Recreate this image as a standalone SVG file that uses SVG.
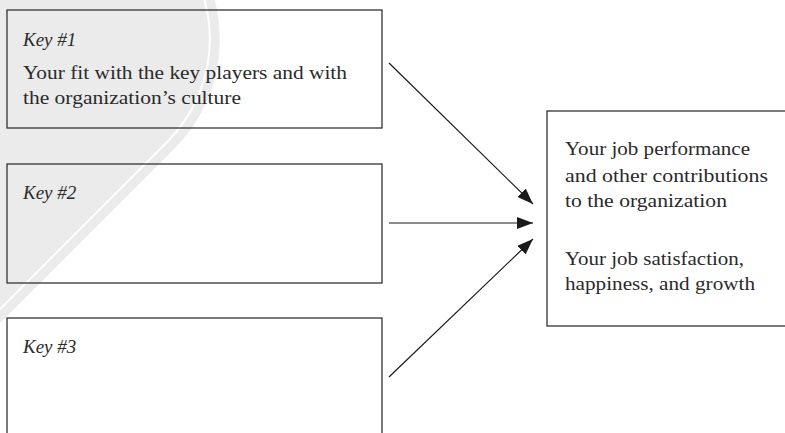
<svg xmlns="http://www.w3.org/2000/svg" width="785" height="433" viewBox="0 0 785 433">
  <defs>
    <marker id="arrowhead" viewBox="0 0 16 12" refX="16" refY="6" markerWidth="16" markerHeight="12" markerUnits="userSpaceOnUse" orient="auto">
      <path d="M0,0 L16,6 L0,12 Z" fill="#1a1a1a"/>
    </marker>
    <style>
      .box { fill: none; stroke: #333; stroke-width: 1.3; }
      .label { font-family: "Liberation Serif", "DejaVu Serif", serif; font-size: 19.5px; fill: #2a2a2a; }
      .key { font-style: italic; font-size: 19px; }
      .link { stroke: #1a1a1a; stroke-width: 1.2; fill: none; marker-end: url(#arrowhead); }
    </style>
  </defs>
  <rect width="785" height="433" fill="#ffffff"/>

  <!-- faint publisher seal behind the first two boxes: a tilted lozenge with an inner keyline -->
  <g id="seal" transform="translate(-8 112) rotate(-45)">
    <rect x="-420" y="-155" width="678" height="310" rx="155" fill="#ebebeb"/>
    <rect x="-410" y="-145" width="658" height="290" rx="145" fill="none" stroke="#ffffff" stroke-width="2"/>
  </g>

  <g id="key1">
    <rect class="box" x="7" y="10" width="375" height="118"/>
    <text class="label key" x="23" y="46">Key #1</text>
    <text class="label" x="23" y="79" textLength="324" lengthAdjust="spacingAndGlyphs">Your fit with the key players and with</text>
    <text class="label" x="23" y="104" textLength="218" lengthAdjust="spacingAndGlyphs">the organization’s culture</text>
  </g>

  <g id="key2">
    <rect class="box" x="7" y="164" width="375" height="119"/>
    <text class="label key" x="23" y="199">Key #2</text>
  </g>

  <g id="key3">
    <rect class="box" x="7" y="318" width="375" height="130"/>
    <text class="label key" x="23" y="353">Key #3</text>
  </g>

  <g id="outcomes">
    <rect class="box" x="547" y="111" width="250" height="215"/>
    <text class="label" x="565" y="155" textLength="185" lengthAdjust="spacingAndGlyphs">Your job performance</text>
    <text class="label" x="565" y="182" textLength="203" lengthAdjust="spacingAndGlyphs">and other contributions</text>
    <text class="label" x="565" y="207" textLength="162" lengthAdjust="spacingAndGlyphs">to the organization</text>
    <text class="label" x="565" y="265" textLength="179" lengthAdjust="spacingAndGlyphs">Your job satisfaction,</text>
    <text class="label" x="565" y="290" textLength="190" lengthAdjust="spacingAndGlyphs">happiness, and growth</text>
  </g>

  <g id="connectors">
    <line class="link" x1="389" y1="63" x2="533" y2="204"/>
    <line class="link" x1="389" y1="223" x2="533" y2="223"/>
    <line class="link" x1="389" y1="377" x2="533" y2="239"/>
  </g>
</svg>
